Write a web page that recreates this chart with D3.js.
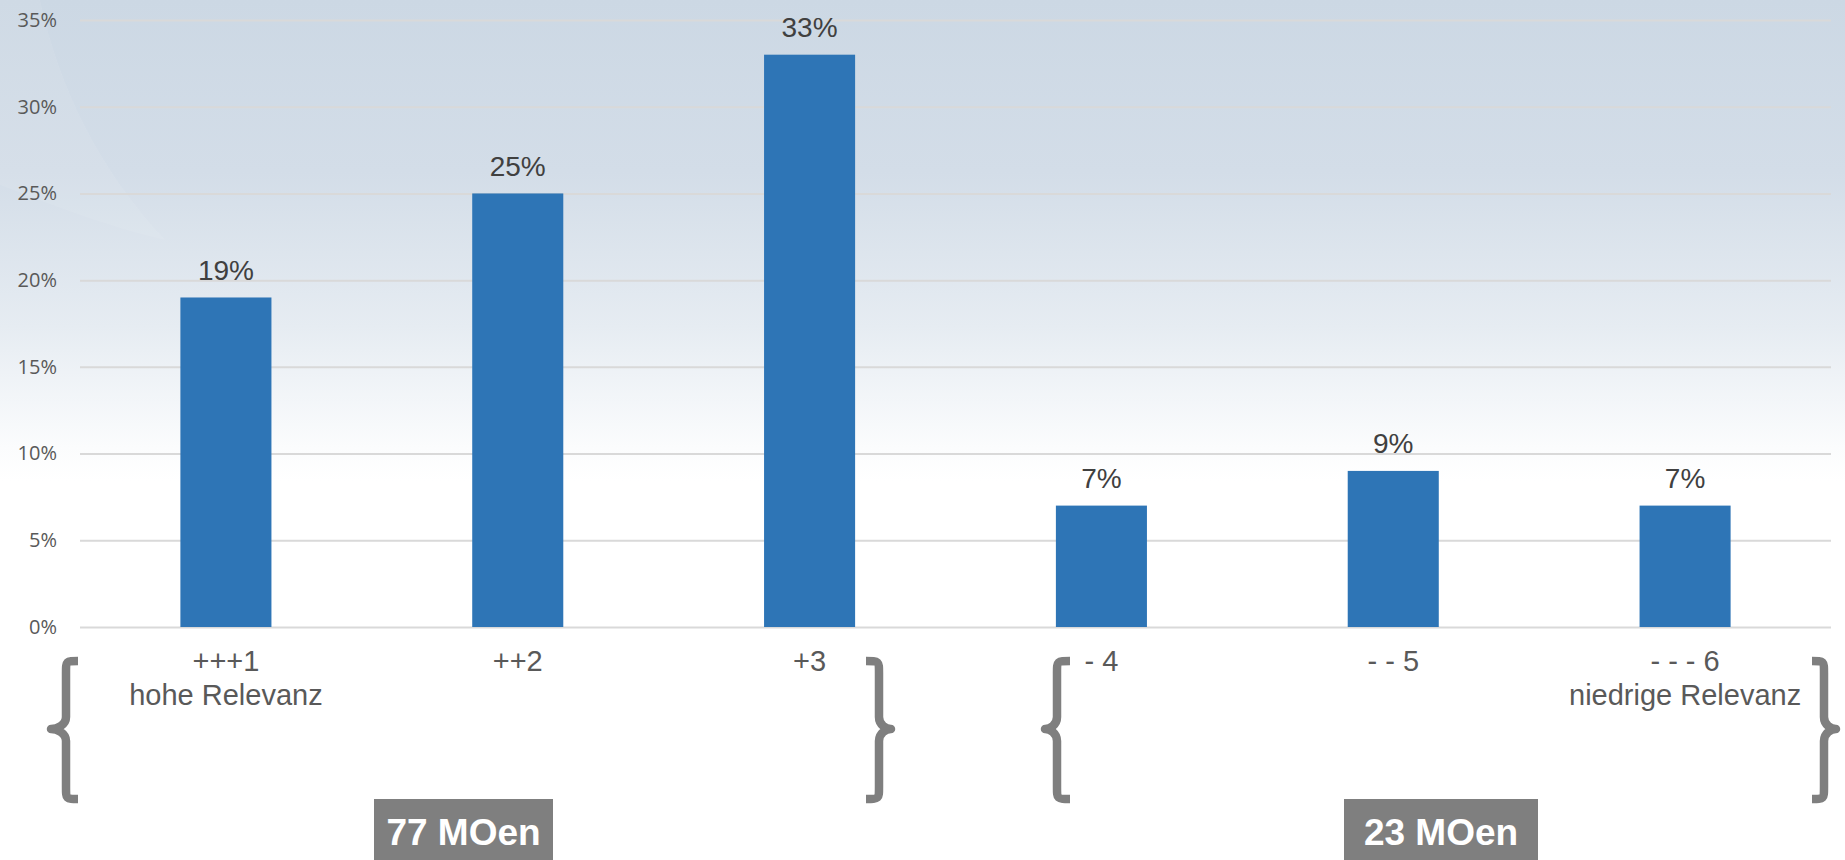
<!DOCTYPE html>
<html>
<head>
<meta charset="utf-8">
<script src="https://cdn.jsdelivr.net/npm/d3@7"></script>
<style>
  html, body { margin: 0; padding: 0; background: #fff; }
  svg { display: block; }
</style>
</head>
<body>
<svg id="chart" width="1845" height="860"></svg>
<script>
// ---- data ----
const categories = ["+++1", "++2", "+3", "- 4", "- - 5", "- - - 6"];
const subLabels = ["hohe Relevanz", "", "", "", "", "niedrige Relevanz"];
const values = [0.19, 0.25, 0.33, 0.07, 0.09, 0.07];
const yTicks = [0, 0.05, 0.10, 0.15, 0.20, 0.25, 0.30, 0.35];
const groupLabels = ["77 MOen", "23 MOen"];

// ---- layout ----
const W = 1845, H = 860;
const svg = d3.select("#chart");

// background gradient
const defs = svg.append("defs");
const grad = defs.append("linearGradient").attr("id", "bg")
  .attr("x1", 0).attr("y1", 0).attr("x2", 0).attr("y2", 1);
grad.append("stop").attr("offset", "0%").attr("stop-color", "#ccd8e4");
grad.append("stop").attr("offset", "20%").attr("stop-color", "#d3dde8");
grad.append("stop").attr("offset", "38%").attr("stop-color", "#e6ecf2");
grad.append("stop").attr("offset", "52%").attr("stop-color", "#fbfcfd");
grad.append("stop").attr("offset", "56%").attr("stop-color", "#ffffff");
grad.append("stop").attr("offset", "100%").attr("stop-color", "#ffffff");
svg.append("rect").attr("width", W).attr("height", H).attr("fill", "url(#bg)");
// subtle lighter swoosh at left top
svg.append("path")
  .attr("d", "M0,0 L40,0 C60,90 100,170 165,240 C100,225 40,200 0,185 Z")
  .attr("fill", "#ffffff").attr("opacity", 0.07);

const x = d3.scaleBand().domain(categories).range([80, 1831])
  .paddingInner(0.688).paddingOuter(0.344);
const y = d3.scaleLinear().domain([0, 0.35]).range([627, 20]);

// gridlines + y tick labels via axis
const yAxis = d3.axisLeft(y).tickValues(yTicks)
  .tickFormat(d3.format(".0%")).tickSize(-(1831 - 80)).tickPadding(23);
const gy = svg.append("g").attr("transform", "translate(80,0)").call(yAxis);
gy.select(".domain").remove();
gy.selectAll(".tick line").attr("stroke", "#d9d9d9").attr("stroke-width", 2);
gy.selectAll(".tick text")
  .attr("font-family", "'Open Sans', sans-serif")
  .attr("font-size", 20).attr("fill", "#595959");

// bars
svg.append("g").selectAll("rect").data(values).join("rect")
  .attr("x", (d, i) => x(categories[i]))
  .attr("y", d => y(d))
  .attr("width", x.bandwidth())
  .attr("height", d => y(0) - y(d))
  .attr("fill", "#2e75b6");

// value labels
svg.append("g").selectAll("text").data(values).join("text")
  .attr("x", (d, i) => x(categories[i]) + x.bandwidth() / 2)
  .attr("y", d => y(d) - 17.5)
  .attr("text-anchor", "middle")
  .attr("font-family", "'Liberation Sans', Arial, sans-serif")
  .attr("font-size", 28).attr("fill", "#404040")
  .text(d => d3.format(".0%")(d));

// category labels
const xAxis = d3.axisBottom(x).tickSize(0).tickPadding(0);
const gx = svg.append("g").attr("transform", "translate(0,627)").call(xAxis);
gx.select(".domain").remove();
gx.selectAll(".tick text").remove();
gx.selectAll(".tick").each(function (d, i) {
  const t = d3.select(this).append("text")
    .attr("text-anchor", "middle")
    .attr("font-family", "'Liberation Sans', Arial, sans-serif")
    .attr("font-size", 29).attr("fill", "#595959");
  t.append("tspan").attr("x", 0).attr("y", 44).text(d);
  if (subLabels[i]) t.append("tspan").attr("x", 0).attr("y", 78).text(subLabels[i]);
});

// braces
function brace(hookX, stemX, tipX, y0, y1, ym) {
  const r = 12;
  return `M${hookX},${y0} C${stemX},${y0} ${stemX},${y0} ${stemX},${y0 + r}` +
    ` L${stemX},${ym - r} C${stemX},${ym - 4} ${tipX + (stemX - tipX) * 0.4},${ym} ${tipX},${ym}` +
    ` C${tipX + (stemX - tipX) * 0.4},${ym} ${stemX},${ym + 4} ${stemX},${ym + r}` +
    ` L${stemX},${y1 - r} C${stemX},${y1} ${stemX},${y1} ${hookX},${y1}`;
}
const braceSpecs = [
  [78, 66, 51], [866, 879, 891], [1070, 1057, 1045], [1812, 1824, 1836]
];
svg.append("g").selectAll("path").data(braceSpecs).join("path")
  .attr("d", d => brace(d[0], d[1], d[2], 661, 799, 729))
  .attr("fill", "none").attr("stroke", "#7f7f7f").attr("stroke-width", 8.5)
  .attr("stroke-linejoin", "round");

// group boxes
const boxes = [
  { x0: 374, x1: 553, label: groupLabels[0] },
  { x0: 1344, x1: 1538, label: groupLabels[1] }
];
const gb = svg.append("g").selectAll("g").data(boxes).join("g");
gb.append("rect")
  .attr("x", d => d.x0).attr("y", 799)
  .attr("width", d => d.x1 - d.x0).attr("height", 61)
  .attr("fill", "#7f7f7f");
gb.append("text")
  .attr("x", d => (d.x0 + d.x1) / 2).attr("y", 845)
  .attr("text-anchor", "middle")
  .attr("font-family", "'Liberation Sans', Arial, sans-serif")
  .attr("font-weight", "bold").attr("font-size", 37).attr("fill", "#ffffff")
  .text(d => d.label);
</script>
</body>
</html>
